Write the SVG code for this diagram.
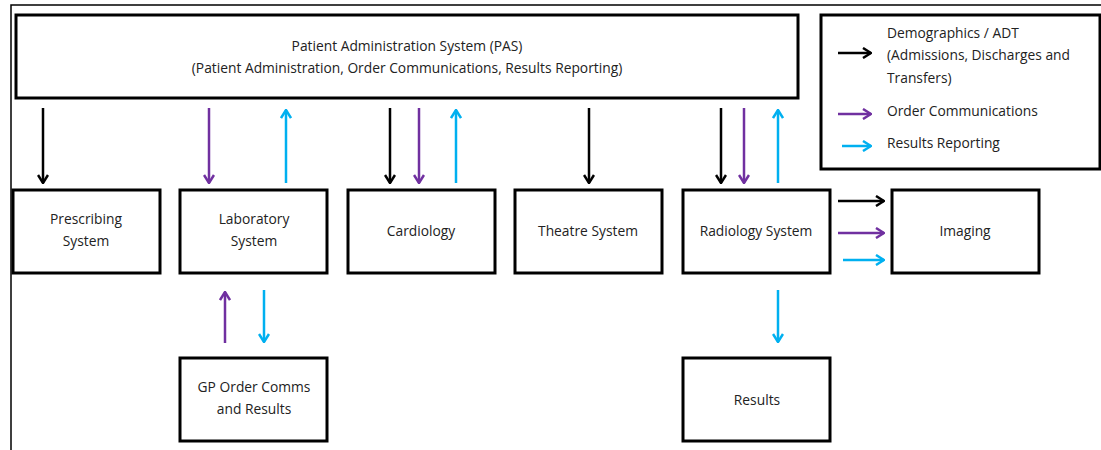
<svg xmlns="http://www.w3.org/2000/svg" width="1101" height="450" viewBox="0 0 1101 450">
<defs>
<style>
.box{fill:#fff;stroke:#000;stroke-width:3}
.t{font-family:"Open Sans","Noto Sans",sans-serif;font-size:13.8px;fill:#222;text-anchor:middle}
.lt{font-family:"Open Sans","Noto Sans",sans-serif;font-size:13.8px;fill:#222}
.k{stroke:#000;stroke-width:2.5;fill:none}
.p{stroke:#7030a0;stroke-width:2.5;fill:none}
.c{stroke:#00b0f0;stroke-width:2.5;fill:none}
</style>
<marker id="mk" viewBox="0 0 12 12" refX="11" refY="6" markerWidth="12" markerHeight="12" markerUnits="userSpaceOnUse" orient="auto"><path d="M3,1 L11,6 L3,11" fill="none" stroke="#000" stroke-width="2.5"/></marker>
<marker id="mp" viewBox="0 0 12 12" refX="11" refY="6" markerWidth="12" markerHeight="12" markerUnits="userSpaceOnUse" orient="auto"><path d="M3,1 L11,6 L3,11" fill="none" stroke="#7030a0" stroke-width="2.5"/></marker>
<marker id="mc" viewBox="0 0 12 12" refX="11" refY="6" markerWidth="12" markerHeight="12" markerUnits="userSpaceOnUse" orient="auto"><path d="M3,1 L11,6 L3,11" fill="none" stroke="#00b0f0" stroke-width="2.5"/></marker>
</defs>
<rect width="1101" height="450" fill="#fff"/>
<path d="M11,450 V5 H1101" fill="none" stroke="#000" stroke-width="1.5"/>
<g id="pas"><rect class="box" x="16" y="15" width="782" height="83"/>
<text class="t" x="407" y="51">Patient Administration System (PAS)</text>
<text class="t" x="407" y="73">(Patient Administration, Order Communications, Results Reporting)</text></g>
<g id="legend"><rect class="box" x="821" y="15" width="279" height="154"/>
<text class="lt" x="887" y="38">Demographics / ADT</text>
<text class="lt" x="887" y="60">(Admissions, Discharges and</text>
<text class="lt" x="887" y="83">Transfers)</text>
<text class="lt" x="887" y="116">Order Communications</text>
<text class="lt" x="887" y="148">Results Reporting</text>
<line class="k" x1="838" y1="53" x2="871" y2="53" marker-end="url(#mk)"/>
<line class="p" x1="838" y1="114" x2="871" y2="114" marker-end="url(#mp)"/>
<line class="c" x1="842" y1="146" x2="871" y2="146" marker-end="url(#mc)"/></g>
<g id="prescribing"><rect class="box" x="13" y="190" width="147" height="83"/>
<text class="t" x="86" y="224">Prescribing</text><text class="t" x="86" y="246">System</text></g>
<g id="laboratory"><rect class="box" x="180" y="190" width="147" height="83"/>
<text class="t" x="254" y="224">Laboratory</text><text class="t" x="254" y="246">System</text></g>
<g id="cardiology"><rect class="box" x="348" y="190" width="147" height="83"/>
<text class="t" x="421" y="236">Cardiology</text></g>
<g id="theatre"><rect class="box" x="515" y="190" width="147" height="83"/>
<text class="t" x="588" y="236">Theatre System</text></g>
<g id="radiology"><rect class="box" x="683" y="190" width="147" height="83"/>
<text class="t" x="756" y="236">Radiology System</text></g>
<g id="imaging"><rect class="box" x="892" y="190" width="147" height="83"/>
<text class="t" x="965" y="236">Imaging</text></g>
<g id="gp"><rect class="box" x="180" y="358" width="147" height="83"/>
<text class="t" x="254" y="392">GP Order Comms</text><text class="t" x="254" y="414">and Results</text></g>
<g id="results"><rect class="box" x="683" y="358" width="147" height="83"/>
<text class="t" x="757" y="405">Results</text></g>
<g id="connectors">
<line class="k" x1="43" y1="108" x2="43" y2="183" marker-end="url(#mk)"/>
<line class="p" x1="209" y1="108" x2="209" y2="183" marker-end="url(#mp)"/>
<line class="c" x1="286" y1="183" x2="286" y2="110" marker-end="url(#mc)"/>
<line class="k" x1="390" y1="108" x2="390" y2="183" marker-end="url(#mk)"/>
<line class="p" x1="419" y1="108" x2="419" y2="183" marker-end="url(#mp)"/>
<line class="c" x1="456" y1="183" x2="456" y2="110" marker-end="url(#mc)"/>
<line class="k" x1="589" y1="108" x2="589" y2="183" marker-end="url(#mk)"/>
<line class="k" x1="721" y1="108" x2="721" y2="183" marker-end="url(#mk)"/>
<line class="p" x1="744" y1="108" x2="744" y2="183" marker-end="url(#mp)"/>
<line class="c" x1="778" y1="183" x2="778" y2="110" marker-end="url(#mc)"/>
<line class="k" x1="838" y1="201" x2="884" y2="201" marker-end="url(#mk)"/>
<line class="p" x1="838" y1="233" x2="884" y2="233" marker-end="url(#mp)"/>
<line class="c" x1="843" y1="260" x2="884" y2="260" marker-end="url(#mc)"/>
<line class="p" x1="225" y1="343" x2="225" y2="292" marker-end="url(#mp)"/>
<line class="c" x1="264" y1="290" x2="264" y2="342" marker-end="url(#mc)"/>
<line class="c" x1="778" y1="290" x2="778" y2="342" marker-end="url(#mc)"/>
</g>
</svg>
